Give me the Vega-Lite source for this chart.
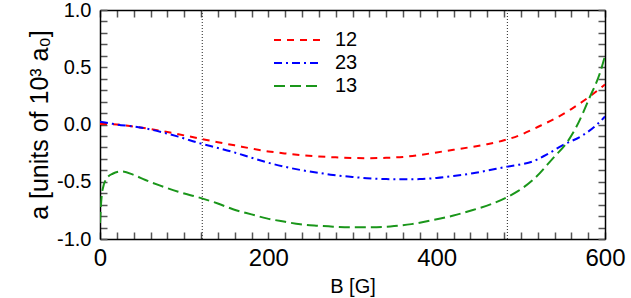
{
  "$schema": "https://vega.github.io/schema/vega-lite/v6.json",
  "width": 505,
  "height": 229,
  "autosize": {"type": "none"},
  "padding": {"left": 100, "top": 10, "right": 26, "bottom": 59},
  "background": "white",
  "config": {
    "font": "Liberation Sans",
    "view": {"stroke": null},
    "axis": {"grid": false, "domainColor": "black", "domainWidth": 1.5, "tickColor": "#555", "tickWidth": 1.5, "labelColor": "black", "titleColor": "black", "titleFontWeight": "normal"}
  },
  "datasets": {
    "curves": [
      {"B": 0, "a": 0.005, "s": "12"}, {"B": 20, "a": 0.0, "s": "12"}, {"B": 40, "a": -0.018, "s": "12"}, {"B": 60, "a": -0.04, "s": "12"}, {"B": 80, "a": -0.065, "s": "12"}, {"B": 100, "a": -0.095, "s": "12"}, {"B": 120, "a": -0.125, "s": "12"}, {"B": 140, "a": -0.155, "s": "12"}, {"B": 160, "a": -0.182, "s": "12"}, {"B": 180, "a": -0.21, "s": "12"}, {"B": 200, "a": -0.235, "s": "12"}, {"B": 220, "a": -0.253, "s": "12"}, {"B": 240, "a": -0.268, "s": "12"}, {"B": 260, "a": -0.279, "s": "12"}, {"B": 280, "a": -0.287, "s": "12"}, {"B": 300, "a": -0.292, "s": "12"}, {"B": 320, "a": -0.294, "s": "12"}, {"B": 340, "a": -0.291, "s": "12"}, {"B": 360, "a": -0.283, "s": "12"}, {"B": 380, "a": -0.266, "s": "12"}, {"B": 400, "a": -0.244, "s": "12"}, {"B": 420, "a": -0.221, "s": "12"}, {"B": 440, "a": -0.198, "s": "12"}, {"B": 460, "a": -0.172, "s": "12"}, {"B": 480, "a": -0.138, "s": "12"}, {"B": 500, "a": -0.09, "s": "12"}, {"B": 520, "a": -0.022, "s": "12"}, {"B": 540, "a": 0.05, "s": "12"}, {"B": 560, "a": 0.135, "s": "12"}, {"B": 580, "a": 0.235, "s": "12"}, {"B": 600, "a": 0.35, "s": "12"},
      {"B": 0, "a": 0.025, "s": "23"}, {"B": 12, "a": 0.01, "s": "23"}, {"B": 20, "a": 0.0, "s": "23"}, {"B": 40, "a": -0.018, "s": "23"}, {"B": 53, "a": -0.033, "s": "23"}, {"B": 80, "a": -0.08, "s": "23"}, {"B": 93, "a": -0.106, "s": "23"}, {"B": 119, "a": -0.165, "s": "23"}, {"B": 140, "a": -0.205, "s": "23"}, {"B": 158, "a": -0.24, "s": "23"}, {"B": 180, "a": -0.29, "s": "23"}, {"B": 198, "a": -0.33, "s": "23"}, {"B": 220, "a": -0.37, "s": "23"}, {"B": 238, "a": -0.397, "s": "23"}, {"B": 260, "a": -0.422, "s": "23"}, {"B": 277, "a": -0.441, "s": "23"}, {"B": 300, "a": -0.458, "s": "23"}, {"B": 317, "a": -0.469, "s": "23"}, {"B": 340, "a": -0.477, "s": "23"}, {"B": 360, "a": -0.479, "s": "23"}, {"B": 380, "a": -0.477, "s": "23"}, {"B": 400, "a": -0.467, "s": "23"}, {"B": 420, "a": -0.45, "s": "23"}, {"B": 443, "a": -0.426, "s": "23"}, {"B": 460, "a": -0.403, "s": "23"}, {"B": 484, "a": -0.368, "s": "23"}, {"B": 500, "a": -0.348, "s": "23"}, {"B": 515, "a": -0.32, "s": "23"}, {"B": 530, "a": -0.265, "s": "23"}, {"B": 550, "a": -0.18, "s": "23"}, {"B": 574, "a": -0.092, "s": "23"}, {"B": 592, "a": 0.01, "s": "23"}, {"B": 600, "a": 0.07, "s": "23"},
      {"B": 0, "a": -0.86, "s": "13"}, {"B": 1, "a": -0.72, "s": "13"}, {"B": 3, "a": -0.57, "s": "13"}, {"B": 8, "a": -0.47, "s": "13"}, {"B": 15, "a": -0.43, "s": "13"}, {"B": 26, "a": -0.41, "s": "13"}, {"B": 40, "a": -0.44, "s": "13"}, {"B": 54, "a": -0.485, "s": "13"}, {"B": 70, "a": -0.53, "s": "13"}, {"B": 93, "a": -0.587, "s": "13"}, {"B": 121, "a": -0.645, "s": "13"}, {"B": 140, "a": -0.69, "s": "13"}, {"B": 158, "a": -0.74, "s": "13"}, {"B": 180, "a": -0.785, "s": "13"}, {"B": 198, "a": -0.82, "s": "13"}, {"B": 220, "a": -0.85, "s": "13"}, {"B": 238, "a": -0.872, "s": "13"}, {"B": 260, "a": -0.885, "s": "13"}, {"B": 277, "a": -0.893, "s": "13"}, {"B": 300, "a": -0.898, "s": "13"}, {"B": 320, "a": -0.897, "s": "13"}, {"B": 345, "a": -0.89, "s": "13"}, {"B": 370, "a": -0.87, "s": "13"}, {"B": 396, "a": -0.834, "s": "13"}, {"B": 420, "a": -0.795, "s": "13"}, {"B": 443, "a": -0.747, "s": "13"}, {"B": 465, "a": -0.695, "s": "13"}, {"B": 484, "a": -0.633, "s": "13"}, {"B": 497, "a": -0.58, "s": "13"}, {"B": 515, "a": -0.48, "s": "13"}, {"B": 540, "a": -0.28, "s": "13"}, {"B": 554, "a": -0.165, "s": "13"}, {"B": 566, "a": -0.02, "s": "13"}, {"B": 582, "a": 0.24, "s": "13"}, {"B": 594, "a": 0.45, "s": "13"}, {"B": 600, "a": 0.6, "s": "13"}
    ],
    "marks": [{"B": 121.5}, {"B": 484}]
  },
  "layer": [
    {
      "data": {"name": "curves"},
      "mark": {"type": "point", "opacity": 0},
      "encoding": {
        "x": {
          "field": "B", "type": "quantitative",
          "scale": {"domain": [0, 600], "nice": false},
          "axis": {
            "orient": "bottom",
            "title": "B [G]", "titleFontSize": 20, "titlePadding": 6,
            "values": [0,20,40,60,80,100,120,140,160,180,200,220,240,260,280,300,320,340,360,380,400,420,440,460,480,500,520,540,560,580,600],
            "labelExpr": "datum.value % 200 === 0 ? datum.label : ''",
            "labelFontSize": 24, "labelPadding": 14,
            "labelFlush": false,
            "tickSize": -7
          }
        },
        "y": {
          "field": "a", "type": "quantitative",
          "scale": {"domain": [-1, 1], "nice": false},
          "axis": {
            "orient": "left",
            "title": "a [units of 10³ a₀]", "titleFontSize": 25, "titlePadding": 4,
            "values": [-1,-0.9,-0.8,-0.7,-0.6,-0.5,-0.4,-0.3,-0.2,-0.1,0,0.1,0.2,0.3,0.4,0.5,0.6,0.7,0.8,0.9,1],
            "labelExpr": "abs(datum.value*2 - round(datum.value*2)) < 0.001 ? replace(format(datum.value, '.1f'), '−', '-') : ''",
            "labelFontSize": 20, "labelPadding": 16,
            "labelFlush": false,
            "tickSize": -7
          }
        }
      }
    },
    {
      "data": {"name": "curves"},
      "mark": {"type": "point", "opacity": 0},
      "encoding": {
        "x": {
          "field": "B", "type": "quantitative",
          "axis": {
            "orient": "top", "title": null, "labels": false,
            "values": [0,20,40,60,80,100,120,140,160,180,200,220,240,260,280,300,320,340,360,380,400,420,440,460,480,500,520,540,560,580,600],
            "tickSize": -7
          }
        },
        "y": {
          "field": "a", "type": "quantitative",
          "axis": {
            "orient": "right", "title": null, "labels": false,
            "values": [-1,-0.9,-0.8,-0.7,-0.6,-0.5,-0.4,-0.3,-0.2,-0.1,0,0.1,0.2,0.3,0.4,0.5,0.6,0.7,0.8,0.9,1],
            "tickSize": -7
          }
        }
      }
    },
    {
      "mark": {"type": "rule", "color": "#808080", "strokeWidth": 2},
      "encoding": {"y": {"datum": 0, "type": "quantitative", "axis": null}}
    },
    {
      "data": {"name": "marks"},
      "mark": {"type": "rule", "color": "#222", "strokeWidth": 1, "strokeDash": [1, 2]},
      "encoding": {"x": {"field": "B", "type": "quantitative", "axis": null}}
    },
    {
      "data": {"name": "curves"},
      "mark": {"type": "line", "strokeWidth": 2, "interpolate": "monotone", "clip": true},
      "encoding": {
        "x": {"field": "B", "type": "quantitative", "axis": null},
        "y": {"field": "a", "type": "quantitative", "axis": null},
        "color": {
          "field": "s", "type": "nominal",
          "scale": {"domain": ["12", "23", "13"], "range": ["#ff0000", "#0000ff", "#1a961a"]},
          "legend": {"title": null, "orient": "none", "legendX": 187, "legendY": 19, "symbolType": "M-2.4,0H2.4", "symbolSize": 400, "symbolStrokeWidth": 2, "labelFontSize": 20, "labelOffset": 26, "rowPadding": 2, "labelColor": "black"}
        },
        "strokeDash": {
          "field": "s", "type": "nominal",
          "scale": {"domain": ["12", "23", "13"], "range": [[7, 6], [8, 4, 2, 4], [11, 5]]},
          "legend": {"title": null, "orient": "none", "legendX": 187, "legendY": 19, "symbolType": "M-2.4,0H2.4", "symbolSize": 400, "symbolStrokeWidth": 2, "labelFontSize": 20, "labelOffset": 26, "rowPadding": 2, "labelColor": "black"}
        }
      }
    }
  ],
  "resolve": {"axis": {"x": "independent", "y": "independent"}}
}
